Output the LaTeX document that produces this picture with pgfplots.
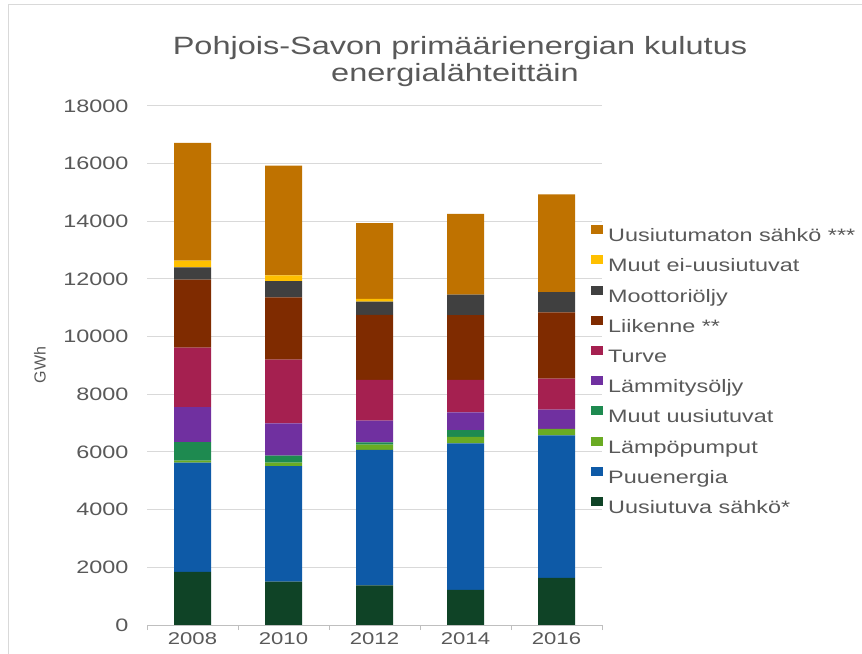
\documentclass[border=0pt]{standalone}
\usepackage{pgfplots}
\pgfplotsset{compat=1.18}
\usepackage{pgfplotstable}
\usepackage{fontspec}
\setmainfont{Liberation Sans}[FakeStretch=1.3]
\newfontfamily\plainfont{Liberation Sans}
\definecolor{txt}{HTML}{595959}
\definecolor{gridgray}{HTML}{D9D9D9}
\definecolor{axisgray}{HTML}{BFBFBF}
\definecolor{c1}{HTML}{0F4326}
\definecolor{c2}{HTML}{0E5AA7}
\definecolor{c3}{HTML}{6AAB23}
\definecolor{c4}{HTML}{1E8A50}
\definecolor{c5}{HTML}{7030A0}
\definecolor{c6}{HTML}{A52050}
\definecolor{c7}{HTML}{7F2B00}
\definecolor{c8}{HTML}{404040}
\definecolor{c9}{HTML}{FFC000}
\definecolor{c10}{HTML}{BF7200}

\pgfplotstableread{
x us puu lp muu lo tu li mo mei un
0 1843 3792 69 638 1217 2064 2354 429 231 4081
1 1507 4000 128 243 1113 2215 2156 568 197 3803
2 1370 4700 185 80 754 1415 2249 464 93 2632
3 1217 5078 232 232 614 1125 2250 707 0 2805
4 1635 4938 232 0 661 1079 2295 708 0 3385
}\data

\begin{document}
\begin{tikzpicture}
\useasboundingbox (0bp,0bp) rectangle (862bp,654bp);
\draw[gridgray, line width=1bp] (8bp,0bp) -- (8bp,649bp) -- (862bp,649bp);
\node[anchor=base, text=txt, font=\fontsize{25bp}{27bp}\selectfont, inner sep=0pt] at (460bp,599bp) {Pohjois-Savon primäärienergian kulutus};
\node[anchor=base, text=txt, font=\fontsize{25bp}{27bp}\selectfont, inner sep=0pt] at (455bp,572bp) {energialähteittäin};
\node[rotate=90, text=txt, font=\plainfont\fontsize{16bp}{18bp}\selectfont, inner sep=0pt] at (40bp,289bp) {GWh};
\begin{axis}[
  at={(147bp,29bp)}, anchor=south west,
  scale only axis, width=455bp, height=519bp,
  ybar stacked, bar width=37bp,
  xmin=-0.5, xmax=4.5, ymin=0, ymax=18000,
  xtick={0,1,2,3,4}, xticklabels={2008,2010,2012,2014,2016},
  x tick style={draw=none},
  extra x ticks={-0.5,0.5,1.5,2.5,3.5,4.5},
  extra x tick labels={},
  extra x tick style={x tick style={draw=axisgray, line width=1bp}, major tick length=5bp, tick align=outside, grid=none},
  ytick={0,2000,...,18000},
  y tick style={draw=none},
  ymajorgrids, grid style={draw=gridgray, line width=1bp},
  axis x line*=bottom, axis y line*=left,
  y axis line style={draw=none},
  x axis line style={draw=axisgray, line width=1bp},
  scaled y ticks=false,
  /pgf/number format/assume math mode=true,
  /pgf/number format/1000 sep={},
  yticklabel style={font=\fontsize{18bp}{20bp}\selectfont, text=txt, xshift=-15bp},
  xticklabel style={font=\fontsize{17bp}{19bp}\selectfont, text=txt, yshift=-4bp},
  reverse legend,
  legend image code/.code={\fill[#1] (0bp,3bp) rectangle (12bp,12bp);},
  legend style={at={(0.9758,0.7707)}, anchor=north west, draw=none, fill=none,
    inner sep=0pt, font=\fontsize{18bp}{20bp}\selectfont, text=txt,
    row sep=9.7bp,
    nodes={inner sep=0pt, text height=13bp, text depth=4bp},
    /tikz/every odd column/.append style={column sep=5bp}},
  legend cell align=left,
]
\addplot[fill=c1, draw=none] table[x=x, y=us] {\data};
\addlegendentry{Uusiutuva sähkö*}
\addplot[fill=c2, draw=none] table[x=x, y=puu] {\data};
\addlegendentry{Puuenergia}
\addplot[fill=c3, draw=none] table[x=x, y=lp] {\data};
\addlegendentry{Lämpöpumput}
\addplot[fill=c4, draw=none] table[x=x, y=muu] {\data};
\addlegendentry{Muut uusiutuvat}
\addplot[fill=c5, draw=none] table[x=x, y=lo] {\data};
\addlegendentry{Lämmitysöljy}
\addplot[fill=c6, draw=none] table[x=x, y=tu] {\data};
\addlegendentry{Turve}
\addplot[fill=c7, draw=none] table[x=x, y=li] {\data};
\addlegendentry{Liikenne **}
\addplot[fill=c8, draw=none] table[x=x, y=mo] {\data};
\addlegendentry{Moottoriöljy}
\addplot[fill=c9, draw=none] table[x=x, y=mei] {\data};
\addlegendentry{Muut ei-uusiutuvat}
\addplot[fill=c10, draw=none] table[x=x, y=un] {\data};
\addlegendentry{Uusiutumaton sähkö ***}
\end{axis}
\end{tikzpicture}
\end{document}
